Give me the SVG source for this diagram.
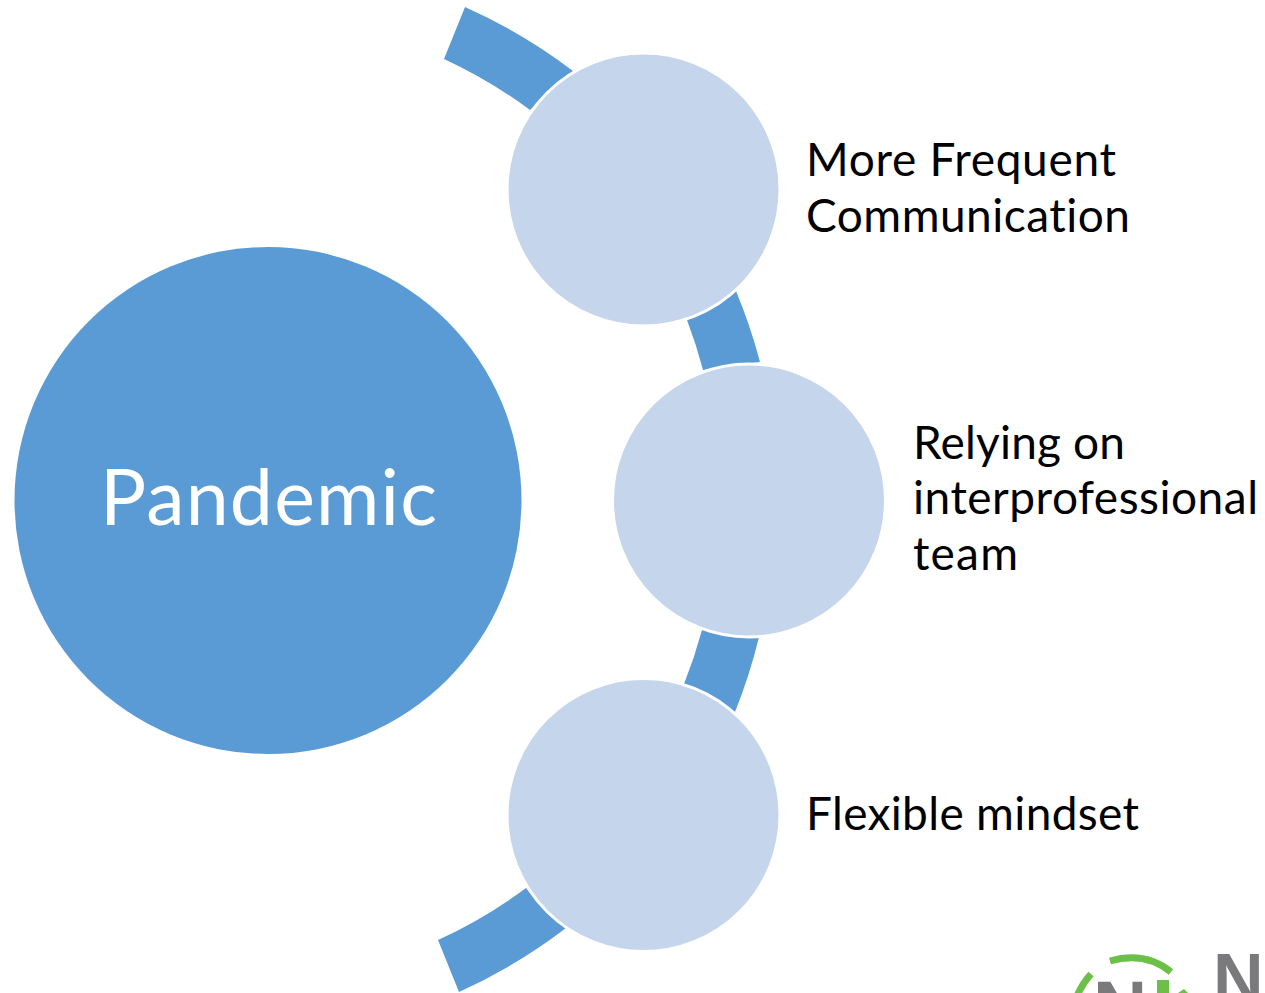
<svg xmlns="http://www.w3.org/2000/svg" width="1265" height="993" viewBox="0 0 1265 993">
<style>
.lbl{font-family:"Lato","Open Sans","Liberation Sans",sans-serif;font-size:46px;fill:#000;font-variant-ligatures:none}
.sat{fill:#c5d5eb;stroke:#fff;stroke-width:3}
.arc{fill:#5b9bd5}
.grn{fill:none;stroke:#6cc04a;stroke-width:7}
.gry{font-family:"Liberation Sans",sans-serif;font-weight:700;fill:#7a7a7c}
</style>
<rect width="1265" height="993" fill="#fff"/>
<g id="connectors">
<path class="arc" d="M465 7A545 545 0 0 1 573 71L530 110A490 490 0 0 0 444 59Z"/>
<path class="arc" d="M736 291A545 545 0 0 1 760 362L703 370A490 490 0 0 0 687 320Z"/>
<path class="arc" d="M759 637A545 545 0 0 1 735 712L684 684A490 490 0 0 0 702 630Z"/>
<path class="arc" d="M566 928A545 545 0 0 1 459 992L438 940A490 490 0 0 0 526 888Z"/>
</g>
<g id="node-pandemic">
<circle cx="268" cy="500.500" r="253.500" fill="#5b9bd5"/>
<text x="100" y="525" font-family="Lato,'Open Sans',sans-serif" font-size="77" fill="#fff" textLength="337" style="font-variant-ligatures:none">Pandemic</text>
</g>
<g id="node-communication">
<circle class="sat" cx="643.500" cy="189.500" r="136.500"/>
<text class="lbl" x="806" y="176" textLength="310">More Frequent</text>
<text class="lbl" x="806" y="232" textLength="324">Communication</text>
</g>
<g id="node-team">
<circle class="sat" cx="749" cy="500.500" r="136.500"/>
<text class="lbl" x="913" y="459" textLength="212">Relying on</text>
<text class="lbl" x="913" y="514" textLength="345">interprofessional</text>
<text class="lbl" x="913" y="570" textLength="105">team</text>
</g>
<g id="node-mindset">
<circle class="sat" cx="643.500" cy="815" r="136.500"/>
<text class="lbl" x="806" y="830" textLength="333">Flexible mindset</text>
</g>
<g id="logo">
<path class="grn" d="M1110 961Q1145 951 1171 972"/>
<path class="grn" d="M1091 974Q1082 984 1077 996"/>
<rect x="1157" y="980" width="12" height="13" fill="#6cc04a"/>
<path d="M1178 993L1184 989L1188 993Z" fill="#6cc04a"/>
<text class="gry" x="1093" y="1033" font-size="75">N</text>
<text class="gry" x="1213" y="1003" font-size="70">N</text>
</g>
</svg>
